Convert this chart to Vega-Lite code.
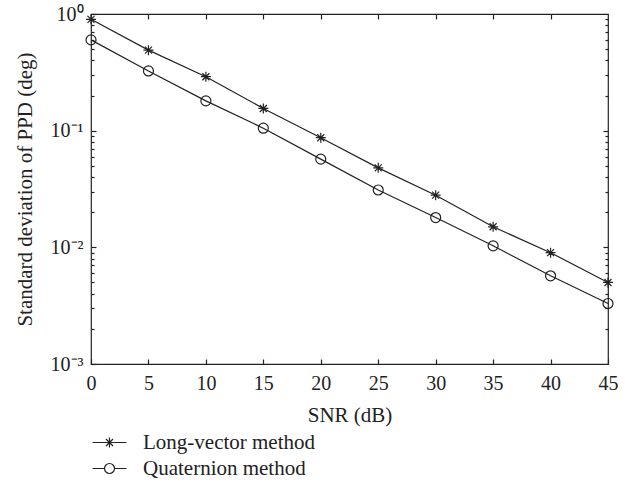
{
  "$schema": "https://vega.github.io/schema/vega-lite/v6.json",
  "width": 517,
  "height": 350,
  "autosize": {"type": "none"},
  "padding": {"left": 91, "top": 14, "right": 26, "bottom": 138},
  "background": "white",
  "config": {
    "view": {"stroke": "#222", "strokeWidth": 1.2},
    "font": "Liberation Serif",
    "axis": {"domain": false, "grid": false, "labelFlush": false, "tickColor": "#222", "labelColor": "#222", "titleColor": "#222", "labelFont": "Liberation Serif", "titleFont": "Liberation Serif", "labelFontSize": 20, "titleFontSize": 21, "titleFontWeight": "normal", "tickWidth": 1.2}
  },
  "data": {
    "values": [
      {"snr": 0, "method": "Long-vector method", "std": 0.9},
      {"snr": 5, "method": "Long-vector method", "std": 0.49},
      {"snr": 10, "method": "Long-vector method", "std": 0.29},
      {"snr": 15, "method": "Long-vector method", "std": 0.155},
      {"snr": 20, "method": "Long-vector method", "std": 0.087},
      {"snr": 25, "method": "Long-vector method", "std": 0.048},
      {"snr": 30, "method": "Long-vector method", "std": 0.028},
      {"snr": 35, "method": "Long-vector method", "std": 0.015},
      {"snr": 40, "method": "Long-vector method", "std": 0.009},
      {"snr": 45, "method": "Long-vector method", "std": 0.005},
      {"snr": 0, "method": "Quaternion method", "std": 0.6},
      {"snr": 5, "method": "Quaternion method", "std": 0.325},
      {"snr": 10, "method": "Quaternion method", "std": 0.18},
      {"snr": 15, "method": "Quaternion method", "std": 0.105},
      {"snr": 20, "method": "Quaternion method", "std": 0.057},
      {"snr": 25, "method": "Quaternion method", "std": 0.031},
      {"snr": 30, "method": "Quaternion method", "std": 0.018},
      {"snr": 35, "method": "Quaternion method", "std": 0.0103},
      {"snr": 40, "method": "Quaternion method", "std": 0.0057},
      {"snr": 45, "method": "Quaternion method", "std": 0.0033}
    ]
  },
  "resolve": {"axis": {"x": "independent", "y": "independent"}, "scale": {"shape": "independent"}},
  "layer": [
    {
      "mark": {"type": "line", "color": "#222", "strokeWidth": 1.2},
      "encoding": {
        "x": {"field": "snr", "type": "quantitative", "scale": {"domain": [0, 45], "nice": false, "zero": false},
              "axis": {"orient": "bottom", "values": [0,5,10,15,20,25,30,35,40,45], "tickSize": -5, "labelPadding": 14, "title": "SNR (dB)", "titleY": 51, "titleBaseline": "middle"}},
        "y": {"field": "std", "type": "quantitative", "scale": {"type": "log", "domain": [0.001, 1], "nice": false},
              "axis": {"orient": "left", "values": [0.001, 0.01, 0.1, 1], "tickSize": -5, "labelPadding": 13,
                       "labelExpr": "datum.value > 0.5 ? '10⁰' : datum.value > 0.05 ? '10⁻¹' : datum.value > 0.005 ? '10⁻²' : '10⁻³'",
                       "title": "Standard deviation of PPD (deg)", "titleX": -66, "titleY": 175, "titleBaseline": "middle", "titleAngle": -90, "titleAlign": "center"}},
        "detail": {"field": "method"}
      }
    },
    {
      "mark": {"type": "point", "filled": false, "stroke": "#222", "strokeWidth": 1.2, "size": 100, "opacity": 1},
      "encoding": {
        "x": {"field": "snr", "type": "quantitative", "axis": null},
        "y": {"field": "std", "type": "quantitative", "axis": null},
        "shape": {"field": "method", "type": "nominal", "legend": null,
                  "scale": {"domain": ["Long-vector method", "Quaternion method"], "range": ["M-1,0L1,0M0,-1L0,1M-0.7,-0.7L0.7,0.7M-0.7,0.7L0.7,-0.7", "circle"]}}
      }
    },
    {
      "transform": [{"filter": "datum.snr < 0"}],
      "mark": {"type": "point", "filled": false, "stroke": "#222", "strokeWidth": 1.2, "size": 100, "opacity": 1},
      "encoding": {
        "x": {"field": "snr", "type": "quantitative", "axis": null},
        "y": {"field": "std", "type": "quantitative", "axis": null},
        "shape": {"field": "method", "type": "nominal",
                  "scale": {"domain": ["Long-vector method", "Quaternion method"], "range": ["M-3.4,0L3.4,0M0,-1L0,1M-0.7,-0.7L0.7,0.7M-0.7,0.7L0.7,-0.7", "M-3.4,0L-1,0M1,0L3.4,0M-1,0A1,1,0,1,0,1,0A1,1,0,1,0,-1,0"]},
                  "legend": {"orient": "none", "legendX": 8, "legendY": 418, "title": null, "padding": 0, "symbolSize": 100,
                             "symbolStrokeColor": "#222", "symbolStrokeWidth": 1.2, "symbolFillColor": "transparent",
                             "labelFont": "Liberation Serif", "labelFontSize": 21, "labelColor": "#222", "labelOffset": 23, "labelLimit": 0, "rowPadding": 4}}
      }
    },
    {
      "mark": {"type": "point", "opacity": 0},
      "encoding": {
        "x": {"field": "snr", "type": "quantitative", "axis": {"orient": "top", "values": [5,10,15,20,25,30,35,40], "tickSize": -5, "labels": false, "title": null}},
        "y": {"field": "std", "type": "quantitative", "axis": {"orient": "right", "values": [0.01, 0.1], "tickSize": -5, "labels": false, "title": null}}
      }
    },
    {
      "mark": {"type": "point", "opacity": 0},
      "encoding": {
        "x": {"field": "snr", "type": "quantitative", "axis": null},
        "y": {"field": "std", "type": "quantitative", "axis": {"orient": "left", "values": [0.002,0.003,0.004,0.005,0.006,0.007,0.008,0.009,0.02,0.03,0.04,0.05,0.06,0.07,0.08,0.09,0.2,0.3,0.4,0.5,0.6,0.7,0.8,0.9], "tickSize": -3, "labels": false, "title": null}}
      }
    },
    {
      "mark": {"type": "point", "opacity": 0},
      "encoding": {
        "x": {"field": "snr", "type": "quantitative", "axis": null},
        "y": {"field": "std", "type": "quantitative", "axis": {"orient": "right", "values": [0.002,0.003,0.004,0.005,0.006,0.007,0.008,0.009,0.02,0.03,0.04,0.05,0.06,0.07,0.08,0.09,0.2,0.3,0.4,0.5,0.6,0.7,0.8,0.9], "tickSize": -3, "labels": false, "title": null}}
      }
    }
  ]
}
